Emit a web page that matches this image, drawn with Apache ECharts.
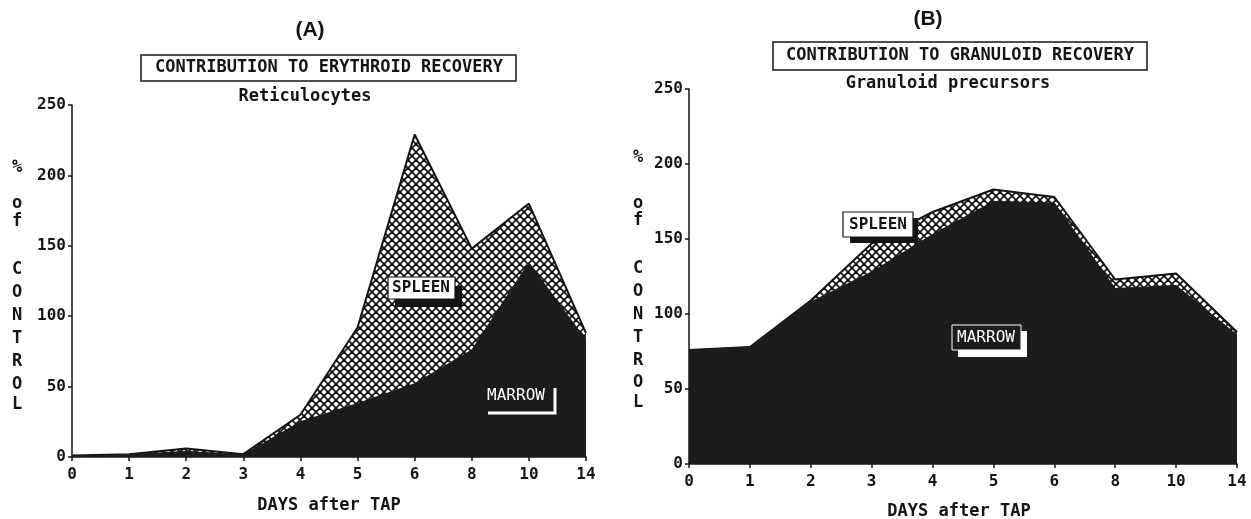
<!DOCTYPE html>
<html><head><meta charset="utf-8">
<script src="https://cdn.jsdelivr.net/npm/echarts@6/dist/echarts.min.js"></script>
<style>html,body{margin:0;padding:0;background:#fff}#c{width:1251px;height:519px}</style>
</head><body><div id="c"></div>
<script>
// ---- data ----
const days = ['0','1','2','3','4','5','6','8','10','14'];
const yTicks = [0, 50, 100, 150, 200, 250];
// (A) Reticulocytes: total (spleen + marrow) and marrow contribution, % of control
const eryTotal  = [1, 2, 6, 2, 30, 92, 229, 148, 180, 88];
const eryMarrow = [0.5, 1.5, 4, 1.5, 25, 38, 52, 76, 138, 83];
// (B) Granuloid precursors
const granTotal  = [76, 78, 109, 147, 168, 183, 178, 123, 127, 88];
const granMarrow = [76, 78, 108, 128, 153, 175, 174, 117, 119, 86];

const MONO = '"DejaVu Sans Mono", "Liberation Mono", monospace';
const INK = '#141414';

function hatch(size){
  const c = document.createElement('canvas'); c.width = c.height = size;
  const g = c.getContext('2d');
  g.fillStyle = '#fff'; g.fillRect(0,0,size,size);
  g.strokeStyle = INK; g.lineWidth = 1.8;
  for (const o of [-size, 0, size]) {
    g.beginPath(); g.moveTo(o,0); g.lineTo(o+size,size); g.stroke();
    g.beginPath(); g.moveTo(o+size,0); g.lineTo(o,size); g.stroke();
  }
  return c;
}

function xAxis(i){
  return {type:'category', gridIndex:i, data:days, boundaryGap:false,
    axisLine:{show:true, lineStyle:{color:INK, width:1.5}},
    axisTick:{show:true, length:4, lineStyle:{color:INK, width:1.5}},
    axisLabel:{color:INK, fontFamily:MONO, fontWeight:'bold', fontSize:16, margin:10, interval:0},
    splitLine:{show:false}};
}
function yAxis(i){
  return {type:'value', gridIndex:i, min:yTicks[0], max:yTicks[yTicks.length-1], interval:yTicks[1]-yTicks[0],
    axisLine:{show:true, lineStyle:{color:INK, width:1.5}},
    axisTick:{show:true, length:4, lineStyle:{color:INK, width:1.5}},
    axisLabel:{color:INK, fontFamily:MONO, fontWeight:'bold', fontSize:16, margin:6},
    splitLine:{show:false}};
}
function pair(i, total, marrow){
  return [
    {type:'line', xAxisIndex:i, yAxisIndex:i, data:total, symbol:'none', z:2,
      lineStyle:{color:INK, width:2}, areaStyle:{color:{image:hatch(8), repeat:'repeat'}, opacity:1}},
    {type:'line', xAxisIndex:i, yAxisIndex:i, data:marrow, symbol:'none', z:3,
      lineStyle:{color:'#1c1c1c', width:1}, areaStyle:{color:'#1c1c1c', opacity:1}}
  ];
}

function txt(x, y, s, size, opt){
  return Object.assign({type:'text', x:x, y:y, z:100, style:Object.assign({text:s, fill:INK, font:'bold '+size+'px '+MONO, align:'center', verticalAlign:'middle'}, opt||{})});
}
const vLetters = [['%',168],['o',204],['f',222],['C',270],['O',293],['N',316],['T',339],['R',362],['O',385],['L',405]];
const vLettersB = [['%',158],['o',204],['f',221],['C',269],['O',292],['N',315],['T',338],['R',361],['O',383],['L',403]];

const graphic = [
  txt(310, 30, '(A)', 21, {font:'bold 21px "Liberation Sans", Arial, sans-serif'}),
  txt(928, 19, '(B)', 21, {font:'bold 21px "Liberation Sans", Arial, sans-serif'}),
  {type:'rect', shape:{x:141, y:55, width:375, height:26}, style:{fill:'#fff', stroke:INK, lineWidth:1.5}, z:90},
  txt(329, 68, 'CONTRIBUTION TO ERYTHROID RECOVERY', 17),
  txt(305, 97, 'Reticulocytes', 17),
  {type:'rect', shape:{x:773, y:42, width:374, height:28}, style:{fill:'#fff', stroke:INK, lineWidth:1.5}, z:90},
  txt(960, 56, 'CONTRIBUTION TO GRANULOID RECOVERY', 17),
  txt(948, 84, 'Granuloid precursors', 17),
  txt(329, 506, 'DAYS after TAP', 17),
  txt(959, 512, 'DAYS after TAP', 17),
  // SPLEEN (A)
  {type:'rect', shape:{x:395, y:286, width:67, height:21}, style:{fill:INK}, z:95},
  {type:'rect', shape:{x:388, y:277, width:67, height:22}, style:{fill:'#fff', stroke:INK, lineWidth:1.2}, z:96},
  txt(421, 288, 'SPLEEN', 16),
  // MARROW (A)
  {type:'polyline', shape:{points:[[488,413],[555,413],[555,388]]}, style:{stroke:'#fff', lineWidth:3, fill:null}, z:96},
  txt(516, 396, 'MARROW', 16, {fill:'#fff', font:'16px '+MONO}),
  // SPLEEN (B)
  {type:'rect', shape:{x:850, y:218, width:68, height:25}, style:{fill:INK}, z:95},
  {type:'rect', shape:{x:843, y:212, width:70, height:25}, style:{fill:'#fff', stroke:INK, lineWidth:1.2}, z:96},
  txt(878, 225, 'SPLEEN', 16),
  // MARROW (B)
  {type:'rect', shape:{x:958, y:331, width:69, height:26}, style:{fill:'#fff'}, z:95},
  {type:'rect', shape:{x:952, y:325, width:69, height:25}, style:{fill:'#1c1c1c', stroke:'#fff', lineWidth:1}, z:96},
  txt(986, 338, 'MARROW', 16, {fill:'#fff', font:'16px '+MONO})
];
vLetters.forEach(([c,y]) => graphic.push(txt(17, y, c, 17)));
vLettersB.forEach(([c,y]) => graphic.push(txt(638, y, c, 17)));

const chart = echarts.init(document.getElementById('c'), null, {renderer:'canvas'});
chart.setOption({
  animation:false,
  backgroundColor:'#fff',
  grid:[
    {left:72, top:105, width:514, height:352},
    {left:689, top:89, width:548, height:375}
  ],
  xAxis:[xAxis(0), xAxis(1)],
  yAxis:[yAxis(0), yAxis(1)],
  series:[...pair(0, eryTotal, eryMarrow), ...pair(1, granTotal, granMarrow)],
  graphic:graphic
});
</script></body></html>
